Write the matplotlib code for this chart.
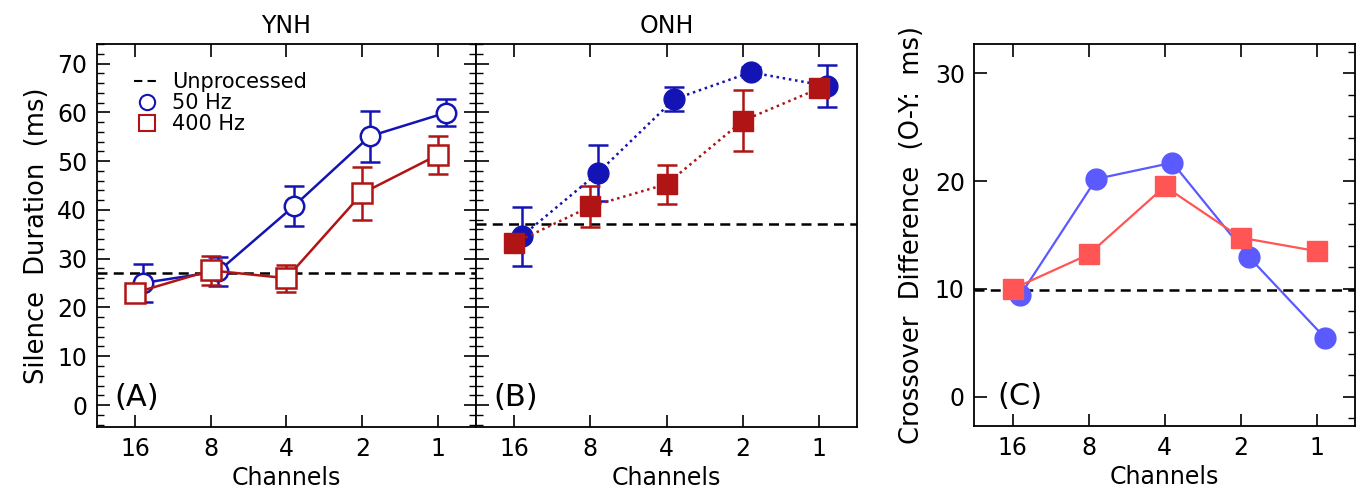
import numpy as np
import matplotlib.pyplot as plt
from matplotlib.lines import Line2D
from matplotlib.ticker import MultipleLocator

plt.rcParams['font.family'] = ['DejaVu Sans']

channels = ["16", "8", "4", "2", "1"]

# panel A: young normal hearing
ynh_50 = [25.0, 27.4, 40.8, 55.1, 59.9]
ynh_50_err = [3.9, 3.0, 4.1, 5.2, 2.8]
ynh_400 = [23.0, 27.6, 26.0, 43.4, 51.3]
ynh_400_err = [1.5, 2.9, 2.8, 5.4, 3.9]
ynh_unproc = 27.1

# panel B: older normal hearing
onh_50 = [34.6, 47.6, 62.7, 68.2, 65.4]
onh_50_err = [6.0, 5.8, 2.4, 1.0, 4.4]
onh_400 = [33.2, 40.7, 45.3, 58.3, 64.9]
onh_400_err = [1.5, 4.2, 4.0, 6.3, 1.5]
onh_unproc = 37.1

# panel C: crossover difference O-Y
diff_50 = [9.4, 20.2, 21.7, 13.0, 5.5]
diff_400 = [10.0, 13.2, 19.5, 14.75, 13.5]
diff_unproc = 9.9

blue = '#1414b4'
red = '#b01414'
lblue = '#5a5aff'
lred = '#ff5555'

x = np.arange(len(channels))
off = 0.1

fig = plt.figure(figsize=(13.61, 4.98), dpi=100)
axA = fig.add_axes([0.0713, 0.1426, 0.2784, 0.769])
axB = fig.add_axes([0.3497, 0.1426, 0.2803, 0.769])
axC = fig.add_axes([0.7160, 0.1446, 0.2797, 0.767])

fs = 17

def style(ax, ylim, major, minor):
    ax.set_xlim(-0.5, 4.5)
    ax.set_ylim(*ylim)
    ax.set_xticks(x)
    ax.set_xticklabels(channels, fontsize=fs)
    ax.yaxis.set_major_locator(MultipleLocator(major))
    ax.yaxis.set_minor_locator(MultipleLocator(minor))
    ax.tick_params(direction='in', which='major', length=9, width=1.2, labelsize=fs, pad=7)
    ax.tick_params(direction='in', which='minor', length=5, width=1.0)
    ax.tick_params(axis='x', top=True)
    for s in ax.spines.values():
        s.set_linewidth(1.3)
    ax.set_xlabel("Channels", fontsize=fs, labelpad=4)

# A
style(axA, (-4.5, 74), 10, 2)
axA.tick_params(axis='y', right=True, which='both')
axA.errorbar(x + off, ynh_50, yerr=ynh_50_err, color=blue, marker='o', ms=14,
             mfc='white', mec=blue, mew=1.8, lw=1.8, capsize=7, capthick=1.8, elinewidth=1.8, zorder=3)
axA.errorbar(x, ynh_400, yerr=ynh_400_err, color=red, marker='s', ms=14,
             mfc='white', mec=red, mew=1.8, lw=1.8, capsize=7, capthick=1.8, elinewidth=1.8, zorder=3)
axA.axhline(ynh_unproc, color='black', ls=(0, (4, 2.5)), lw=1.8, zorder=2)
axA.set_ylabel("Silence  Duration  (ms)", fontsize=18.5, labelpad=5)
axA.set_title("YNH", fontsize=fs, pad=8)
axA.text(0.045, 0.055, "(A)", transform=axA.transAxes, fontsize=22)
handles = [Line2D([], [], color='black', ls=(0, (4, 2.5)), lw=1.5),
           Line2D([], [], color=blue, marker='o', ls='none', mfc='white', mew=1.5, ms=11),
           Line2D([], [], color=red, marker='s', ls='none', mfc='white', mew=1.5, ms=11)]
axA.legend(handles, ["Unprocessed", "50 Hz", "400 Hz"], loc='upper left', frameon=False,
           fontsize=15, handlelength=1.2, handletextpad=0.6, labelspacing=0.05,
           borderaxespad=0.3, bbox_to_anchor=(0.06, 0.965))

# B
style(axB, (-4.5, 74), 10, 2)
axB.tick_params(axis='y', labelleft=False, which='both')
axB.errorbar(x + off, onh_50, yerr=onh_50_err, color=blue, marker='o', ms=15,
             ls=(0, (1, 1.5)), lw=1.8, capsize=7, capthick=1.8, elinewidth=1.8, zorder=3)
axB.errorbar(x, onh_400, yerr=onh_400_err, color=red, marker='s', ms=15,
             ls=(0, (1, 1.5)), lw=1.8, capsize=7, capthick=1.8, elinewidth=1.8, zorder=3)
axB.axhline(onh_unproc, color='black', ls=(0, (4, 2.5)), lw=1.8, zorder=2)
axB.set_title("ONH", fontsize=fs, pad=8)
axB.text(0.045, 0.055, "(B)", transform=axB.transAxes, fontsize=22)

# C
style(axC, (-2.7, 32.7), 10, 2)
axC.tick_params(axis='y', which='minor', left=False, right=True)
axC.tick_params(axis='y', which='major', right=True)
axC.plot(x + off, diff_50, color=lblue, marker='o', ms=15, lw=1.6, zorder=3)
axC.plot(x, diff_400, color=lred, marker='s', ms=15, lw=1.6, zorder=3)
axC.axhline(diff_unproc, color='black', ls=(0, (4, 2.5)), lw=1.8, zorder=2)
axC.set_ylabel("Crossover  Difference  (O-Y:  ms)", fontsize=18.5, labelpad=7)
axC.text(0.06, 0.055, "(C)", transform=axC.transAxes, fontsize=22)

fig.savefig("out.png", dpi=100)
